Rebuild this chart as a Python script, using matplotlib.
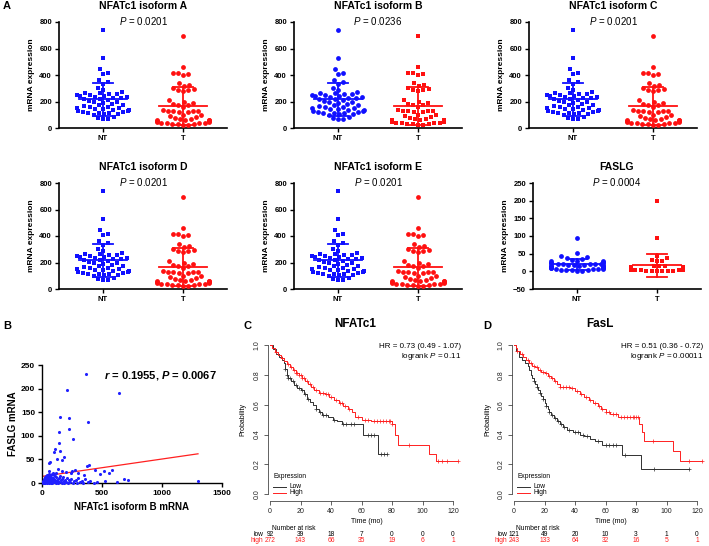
import numpy as np
import matplotlib
matplotlib.use("Agg")
import matplotlib.pyplot as plt
from matplotlib.lines import Line2D
from matplotlib.transforms import blended_transform_factory

plt.rcParams['font.family'] = 'Liberation Sans'
plt.rcParams['mathtext.fontset'] = 'custom'
plt.rcParams['mathtext.rm'] = 'Liberation Sans'
plt.rcParams['mathtext.it'] = 'Liberation Sans:italic'
plt.rcParams['mathtext.bf'] = 'Liberation Sans:bold'
plt.rcParams['mathtext.bfit'] = 'Liberation Sans:italic:bold'

# ---- panel A data (same cohort shown for isoforms A-E) ----
iso_nt = [743, 529, 446, 418, 411, 360, 350, 335, 300, 290, 268, 265, 262, 258, 255,
          250, 248, 245, 240, 236, 232, 228, 225, 222, 218, 212, 205, 200, 195, 190,
          180, 175, 170, 165, 160, 155, 150, 148, 145, 140, 138, 135, 130, 125, 120,
          118, 115, 112, 110, 108, 105, 100, 80, 75, 70, 65]
iso_t = [693, 460, 418, 412, 405, 398, 340, 325, 320, 300, 295, 290, 285, 280, 210,
         200, 185, 180, 175, 170, 160, 135, 132, 130, 128, 126, 124, 120, 100, 95,
         90, 80, 75, 68, 65, 63, 62, 60, 58, 55, 50, 45, 42, 40, 38, 36, 34, 32,
         30, 28, 26, 25]
faslg_nt = [93, 53, 42, 40, 38, 36, 32, 30, 28, 28, 26, 25, 24, 23, 22, 22, 21, 20,
            20, 19, 18, 18, 17, 16, 15, 15, 14, 13, 12, 12, 11, 10, 10, 9, 8, 8, 7,
            6, 5, 5, 4, 3, 2, 1]
faslg_t = [200, 93, 44, 38, 33, 30, 28, 15, 14, 14, 13, 13, 12, 12, 11, 11, 10, 10,
           10, 9, 9, 9, 8, 8, 8, 7, 7, 7, 6, 6, 6, 5, 5, 5, 4, 4, 3, 3, 2, 2, 1, 1, 0, 0]
titles = ["NFATc1 isoform A", "NFATc1 isoform B", "NFATc1 isoform C",
          "NFATc1 isoform D", "NFATc1 isoform E", "FASLG"]
pvals = ["0.0201", "0.0236", "0.0201", "0.0201", "0.0201", "0.0004"]
groups = ["NT", "T"]

# ---- panel B data ----
b_out_x = [370, 208, 640, 147, 222, 384, 139, 222, 259, 139, 153, 97, 111, 180, 125,
           167, 70, 56, 375, 389, 278, 250, 520, 560, 583, 440, 487, 528, 625, 680,
           720, 1300, 60, 90, 130, 170, 200, 240, 300, 350]
b_out_y = [230, 198, 191, 139, 137, 130, 109, 114, 94, 84, 67, 65, 72, 56, 51,
           49, 44, 42, 37, 38, 28, 25, 25, 22, 27, 28, 19, 5, 3, 8,
           6, 5, 25, 22, 30, 26, 24, 21, 22, 18]
b_cl_x = [5, 8, 12, 15, 18, 20, 22, 25, 28, 30, 33, 35, 38, 40, 42, 45, 48, 50, 52, 55,
          58, 60, 62, 65, 68, 70, 72, 75, 78, 80, 82, 85, 88, 90, 95, 98, 100, 105, 110, 115,
          118, 120, 125, 130, 135, 140, 145, 150, 155, 160, 165, 170, 175, 180, 185, 190,
          200, 210, 215, 225, 235, 245, 255, 265, 280, 290, 300, 315, 330, 345, 360, 380,
          400, 430, 460]
b_cl_y = [2, 0, 5, 1, 8, 3, 12, 0, 6, 15, 2, 9, 4, 18, 1, 11, 7, 3, 14, 0,
          20, 5, 10, 2, 16, 8, 1, 13, 4, 19, 6, 0, 11, 3, 9, 17, 2, 14, 6, 1,
          12, 22, 4, 8, 0, 10, 3, 15, 6, 2, 9, 1, 12, 5, 0, 7, 3, 11, 1, 6,
          2, 9, 0, 4, 7, 1, 10, 3, 5, 0, 8, 2, 4, 1, 3]
fit_intercept = 14.0
fit_slope = 0.0368

# ---- panel C / D Kaplan-Meier data ----
c_low_t = [0, 2, 4, 6, 8, 9, 10, 11, 12, 14, 16, 18, 20, 22, 24, 26, 28, 30, 32, 34, 38, 41, 44, 47, 61, 71]
c_low_s = [1.0, 0.97, 0.94, 0.92, 0.90, 0.88, 0.84, 0.80, 0.78, 0.76, 0.73, 0.71, 0.70, 0.67,
           0.64, 0.62, 0.60, 0.57, 0.55, 0.53, 0.52, 0.50, 0.49, 0.47, 0.40, 0.27]
c_low_end = 77
c_low_cens = [10, 11, 12, 13, 15, 17, 19, 21, 23, 25, 30, 33, 35, 37, 42, 48, 50, 53, 55, 64, 66, 68, 73, 75, 77]
c_high_t = [0, 1, 3, 5, 7, 9, 11, 13, 15, 17, 19, 21, 23, 25, 27, 29, 32, 36, 39, 42, 45, 48,
            51, 54, 56, 60, 66, 80, 82, 84, 104, 109]
c_high_s = [1.0, 0.98, 0.95, 0.93, 0.91, 0.89, 0.87, 0.85, 0.83, 0.81, 0.80, 0.78, 0.76, 0.74,
            0.72, 0.70, 0.68, 0.67, 0.65, 0.63, 0.61, 0.59, 0.57, 0.55, 0.52, 0.50, 0.49, 0.47,
            0.40, 0.33, 0.27, 0.22]
c_high_end = 123
c_high_cens = [4, 8, 12, 14, 16, 17, 18, 19, 20, 21, 22, 24, 26, 28, 30, 33, 35, 37, 38, 40, 43,
               46, 47, 49, 52, 58, 62, 64, 68, 70, 72, 74, 76, 78, 79, 80, 91, 110, 113, 116, 123]
d_low_t = [0, 1, 3, 5, 7, 9, 10, 11, 12, 13, 14, 15, 16, 17, 18, 19, 20, 21, 22, 23, 24, 26,
           28, 30, 32, 35, 39, 43, 46, 50, 53, 58, 71, 83]
d_low_s = [1.0, 0.96, 0.92, 0.90, 0.88, 0.86, 0.83, 0.80, 0.78, 0.76, 0.74, 0.72, 0.70, 0.68,
           0.66, 0.64, 0.61, 0.59, 0.57, 0.55, 0.53, 0.51, 0.49, 0.47, 0.45, 0.43, 0.42, 0.40,
           0.39, 0.37, 0.36, 0.33, 0.26, 0.17]
d_low_end = 115
d_low_cens = [13, 15, 17, 19, 21, 23, 25, 27, 29, 31, 33, 36, 40, 42, 45, 48, 55, 60, 62, 65, 67, 73, 92, 115]
d_high_t = [0, 1, 2, 4, 6, 8, 10, 12, 14, 16, 18, 20, 22, 24, 26, 28, 30, 37, 40, 43, 46, 49,
            52, 55, 57, 60, 63, 68, 82, 84, 85.5, 104, 109]
d_high_s = [1.0, 0.98, 0.96, 0.94, 0.92, 0.90, 0.88, 0.86, 0.85, 0.83, 0.82, 0.81, 0.79, 0.78,
            0.76, 0.74, 0.72, 0.71, 0.69, 0.67, 0.65, 0.63, 0.61, 0.59, 0.57, 0.55, 0.54, 0.52,
            0.47, 0.42, 0.36, 0.29, 0.22]
d_high_end = 123
d_high_cens = [2, 5, 9, 11, 13, 15, 17, 19, 21, 23, 25, 27, 30, 32, 34, 36, 38, 41, 44, 47, 50,
               53, 56, 58, 60, 62, 65, 67, 70, 72, 74, 76, 78, 79, 80, 81, 91, 115, 123]
risk_times = [0, 20, 40, 60, 80, 100, 120]
c_risk_low = [92, 39, 18, 7, 0, 0, 0]
c_risk_high = [272, 143, 66, 35, 19, 6, 1]
d_risk_low = [121, 49, 20, 10, 3, 1, 0]
d_risk_high = [243, 133, 64, 32, 16, 5, 1]

BLUE = '#1010ff'
RED = '#ff1010'
KM_BLACK = '#303030'
KM_RED = '#ff2020'

W, H = 709, 546
fig = plt.figure(figsize=(W / 100, H / 100), dpi=100)


def px_axes(x0, y0, x1, y1):
    return fig.add_axes([x0 / W, 1 - y1 / H, (x1 - x0) / W, (y1 - y0) / H])


def ftext(x, y, s, **kw):
    fig.text(x / W, 1 - y / H, s, **kw)


def fline(x0, x1, y, **kw):
    fig.add_artist(Line2D([x0 / W, x1 / W], [1 - y / H, 1 - y / H], transform=fig.transFigure, **kw))


def swarm(vals, xscale, yscale, d=5.0, lim=0.33):
    # simple beeswarm: place each point as close to the centre as it fits
    ys = np.asarray(vals, float) * yscale
    xs = np.zeros(len(ys))
    placed = []
    for i in np.argsort(ys):
        y = ys[i]
        near = [(xp, yp) for xp, yp in placed if abs(yp - y) < d]
        cands = [0.0]
        for xp, yp in near:
            dx = np.sqrt(d * d - (y - yp) ** 2)
            cands += [xp + dx, xp - dx]
        cands.sort(key=abs)
        for c in cands:
            if all((c - xp) ** 2 + (y - yp) ** 2 >= d * d - 1e-6 for xp, yp in near):
                xs[i] = c
                break
        placed.append((xs[i], y))
    return np.clip(xs / xscale, -lim, lim)


def dot_panel(x0, ytop, title, pv, nt, t, marks, ylim, yticks):
    ax = px_axes(x0, ytop, x0 + 168, ytop + 106)
    ax.set_xlim(-0.55, 1.55)
    ax.set_ylim(*ylim)
    yscale = 106 / (ylim[1] - ylim[0])
    for k, (vals, mk, col) in enumerate([(nt, marks[0], BLUE), (t, marks[1], RED)]):
        off = swarm(vals, 80, yscale, d=5.4)
        ax.scatter(k + off, vals, marker=mk, s=12, color=col, lw=0, clip_on=False, zorder=3)
        m = np.mean(vals)
        sd = np.std(vals, ddof=1)
        ax.plot([k - 0.3, k + 0.3], [m, m], color=col, lw=1.3, zorder=4, clip_on=False)
        ax.plot([k, k], [m - sd, m + sd], color=col, lw=1.3, zorder=4, clip_on=False)
        for yy in (m - sd, m + sd):
            ax.plot([k - 0.13, k + 0.13], [yy, yy], color=col, lw=1.3, zorder=4, clip_on=False)
    for s in ['top', 'right']:
        ax.spines[s].set_visible(False)
    for s in ['left', 'bottom']:
        ax.spines[s].set_linewidth(1.2)
    ax.set_yticks(yticks)
    ax.set_xticks([0, 1])
    ax.set_xticklabels(groups)
    ax.tick_params(labelsize=5.5, width=1.0, length=3, pad=2)
    for lab in ax.get_xticklabels() + ax.get_yticklabels():
        lab.set_fontweight('bold')
    ax.set_ylabel('mRNA expression', fontsize=6, fontweight='bold', labelpad=3)
    ax.text(0.5, 1.15, title, transform=ax.transAxes, ha='center', va='center',
            fontsize=7.5, fontweight='bold')
    ax.text(0.5, 1.01, r'$P$ = ' + pv, transform=ax.transAxes, ha='center', va='center', fontsize=7)
    return ax


cols = [59, 294, 529]
marks_list = [('s', 'o'), ('o', 's'), ('s', 'o'), ('s', 'o'), ('s', 'o'), ('o', 's')]
for i in range(5):
    x0 = cols[i % 3]
    ytop = 22 if i < 3 else 183
    dot_panel(x0, ytop, titles[i], pvals[i], iso_nt, iso_t, marks_list[i], (0, 800), [0, 200, 400, 600, 800])
dot_panel(533, 183, titles[5], pvals[5], faslg_nt, faslg_t, marks_list[5], (-50, 250),
          [-50, 0, 50, 100, 150, 200, 250])

# ---- panel B ----
axb = px_axes(42, 365, 222, 483)
axb.scatter(b_cl_x + b_out_x, b_cl_y + b_out_y, s=5, color='#2020ff', lw=0, clip_on=False, zorder=3)
xfit = np.array([0, max(b_out_x + b_cl_x)])
axb.plot(xfit, fit_intercept + fit_slope * xfit, color='#ff2020', lw=0.9, zorder=2)
axb.set_xlim(0, 1500)
axb.set_ylim(0, 250)
axb.set_xticks([0, 500, 1000, 1500])
axb.set_yticks([0, 50, 100, 150, 200, 250])
for s in ['top', 'right']:
    axb.spines[s].set_visible(False)
for s in ['left', 'bottom']:
    axb.spines[s].set_linewidth(1.0)
axb.tick_params(labelsize=6, width=1.0, length=3, pad=2)
for lab in axb.get_xticklabels() + axb.get_yticklabels():
    lab.set_fontweight('bold')
axb.set_xlabel('NFATc1 isoform B mRNA', fontsize=7, fontweight='bold', labelpad=4)
axb.set_ylabel('FASLG mRNA', fontsize=7, fontweight='bold', labelpad=2)
ftext(160, 376, r'$\mathbfit{r}$ = 0.1955, $\mathbfit{P}$ = 0.0067', ha='center', va='center',
      fontsize=8, fontweight='bold')


# ---- panels C and D ----
def surv_at(tt, ss, x):
    idx = np.searchsorted(tt, x, side='right') - 1
    return np.asarray(ss)[idx]


def km_panel(t0px, title, tcx, curves, hr, lr, rx, risk_low, risk_high, problabel_x):
    ppm = 1.525
    ax = px_axes(t0px - 1.5 * ppm, 339, t0px + 128 * ppm, 501)
    for tt, ss, end, cens, col in curves:
        ax.step(list(tt) + [end], list(ss) + [ss[-1]], where='post', color=col, lw=0.7)
        ax.plot(cens, surv_at(tt, ss, cens), ls='none', marker='+', ms=3, mew=0.5, color=col)
    ax.set_xlim(-1.5, 128)
    ax.set_ylim(-0.045, 1.04)
    for s in ['top', 'right']:
        ax.spines[s].set_visible(False)
    ax.spines['left'].set_bounds(0, 1)
    ax.spines['bottom'].set_bounds(0, 120)
    for s in ['left', 'bottom']:
        ax.spines[s].set_linewidth(0.5)
        ax.spines[s].set_color('#222222')
    ax.set_xticks(risk_times)
    ax.set_yticks([0, 0.2, 0.4, 0.6, 0.8, 1.0])
    ax.set_yticklabels(['0.0', '0.2', '0.4', '0.6', '0.8', '1.0'], rotation=90, va='center')
    ax.tick_params(labelsize=5, width=0.5, length=3, pad=2, colors='#222222')
    ax.set_xlabel('Time (mo)', fontsize=5, labelpad=2)
    ax.yaxis.set_label_coords(-(t0px - 1.5 * ppm - problabel_x) / (129.5 * ppm), 0.5)
    ax.set_ylabel('Probability', fontsize=5)
    ftext(tcx, 324, title, ha='center', va='center', fontsize=8.5, fontweight='bold')
    ftext(rx, 346, hr, ha='right', va='center', fontsize=5.8)
    ftext(rx, 357, lr, ha='right', va='center', fontsize=5.8)
    # legend
    lx = t0px + 3
    ftext(lx, 477, 'Expression', ha='left', va='center', fontsize=4.8)
    fline(lx, lx + 13, 487, color=KM_BLACK, lw=0.7)
    fline(lx, lx + 13, 493, color=KM_RED, lw=0.7)
    ftext(lx + 16, 487, 'Low', ha='left', va='center', fontsize=4.8)
    ftext(lx + 16, 493, 'High', ha='left', va='center', fontsize=4.8)
    # number at risk
    ftext(t0px + 2, 528, 'Number at risk', ha='left', va='center', fontsize=4.8)
    tr = blended_transform_factory(ax.transData, fig.transFigure)
    ftext(t0px - 7, 535, 'low', ha='right', va='center', fontsize=4.8)
    ftext(t0px - 7, 541, 'high', ha='right', va='center', fontsize=4.8, color=KM_RED)
    for tm, nl, nh in zip(risk_times, risk_low, risk_high):
        ax.text(tm, 1 - 535 / H, str(nl), transform=tr, ha='center', va='center', fontsize=4.8)
        ax.text(tm, 1 - 541 / H, str(nh), transform=tr, ha='center', va='center', fontsize=4.8,
                color=KM_RED)
    return ax


km_panel(270, 'NFATc1', 355,
         [(c_low_t, c_low_s, c_low_end, c_low_cens, KM_BLACK),
          (c_high_t, c_high_s, c_high_end, c_high_cens, KM_RED)],
         'HR = 0.73 (0.49 - 1.07)', r'logrank $P$ = 0.11', 461, c_risk_low, c_risk_high, 246)
km_panel(514, 'FasL', 600,
         [(d_low_t, d_low_s, d_low_end, d_low_cens, KM_BLACK),
          (d_high_t, d_high_s, d_high_end, d_high_cens, KM_RED)],
         'HR = 0.51 (0.36 - 0.72)', r'logrank $P$ = 0.00011', 703, d_risk_low, d_risk_high, 491)

# panel letters
ftext(3, 6, 'A', ha='left', va='center', fontsize=8, fontweight='bold')
ftext(3, 326, 'B', ha='left', va='center', fontsize=8, fontweight='bold')
ftext(243, 326, 'C', ha='left', va='center', fontsize=8, fontweight='bold')
ftext(483, 326, 'D', ha='left', va='center', fontsize=8, fontweight='bold')

fig.savefig('out.png', dpi=100)
